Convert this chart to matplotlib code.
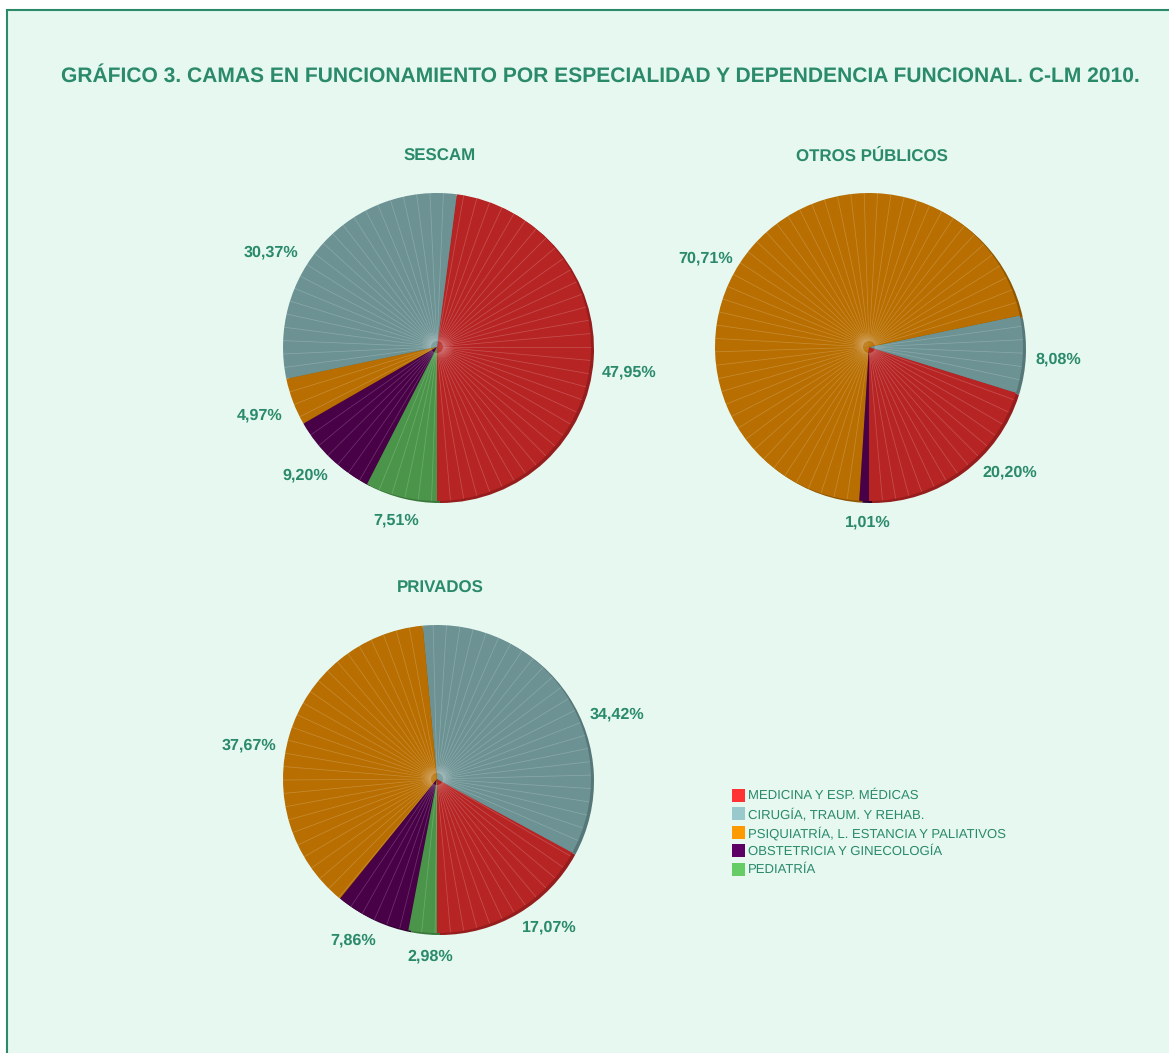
import numpy as np
import matplotlib
matplotlib.use("Agg")
import matplotlib.pyplot as plt
from matplotlib.patches import Rectangle, Circle

plt.rcParams["font.family"] = ["Liberation Sans", "DejaVu Sans"]
plt.rcParams["text.hinting"] = "no_hinting"

W, H = 1169, 1053
TXT = "#2A8A6A"
BG = "#E6F8F0"

title = "GRÁFICO 3. CAMAS EN FUNCIONAMIENTO POR ESPECIALIDAD Y DEPENDENCIA FUNCIONAL. C-LM 2010."
categories = ["MEDICINA Y ESP. MÉDICAS", "CIRUGÍA, TRAUM. Y REHAB.",
              "PSIQUIATRÍA, L. ESTANCIA Y PALIATIVOS",
              "OBSTETRICIA Y GINECOLOGÍA", "PEDIATRÍA"]

# percentages, same order as categories
sescam = [47.95, 30.37, 4.97, 9.20, 7.51]
otros = [20.20, 8.08, 70.71, 1.01, 0]
privados = [17.07, 34.42, 37.67, 7.86, 2.98]

legend_colors = ["#FF3333", "#99C9CC", "#FF9900", "#5C0066", "#66CC66"]
top_colors = ["#B72424", "#6C9293", "#B86E00", "#480046", "#4A9549"]
side_colors = ["#961D1D", "#577677", "#8F5600", "#300030", "#3A763A"]

# pixel layout: pie centre, title pos, label centres
sescam_labels = [(629, 372), (271, 252), (260, 415), (305, 475), (396, 520)]
otros_labels = [(1010, 472), (1058, 359), (706, 258), (868, 522), None]
privados_labels = [(549, 927), (617, 714), (249, 745), (353, 940), (430, 956)]
pies = [
    ("SESCAM", sescam, (437, 347), (440, 156.5), sescam_labels),
    ("OTROS PÚBLICOS", otros, (869, 347), (872, 156.5), otros_labels),
    ("PRIVADOS", privados, (437, 779), (440, 588.5), privados_labels),
]

R = 154


def fmt(v):
    return f"{v:.2f}%".replace(".", ",")


def draw_pie(name, vals, c, title_xy, labels):
    pad = 170
    ax = fig.add_axes([(c[0] - pad) / W, 1 - (c[1] + pad) / H, 2 * pad / W, 2 * pad / H])

    # extruded edge: the same pie, darker, pushed right and down
    ax.pie(vals, colors=side_colors, startangle=270, counterclock=True, radius=R,
           center=(3, -2), frame=True)
    wedges, _ = ax.pie(vals, colors=top_colors, startangle=270, counterclock=True,
                       radius=R, center=(0, 0), frame=True)
    ax.set_xlim(-pad, pad)
    ax.set_ylim(-pad, pad)
    ax.axis("off")

    # faint spokes inside every wedge
    for w in wedges:
        if w.theta2 - w.theta1 < 1:
            continue
        for a in np.arange(w.theta1 + 5, w.theta2 - 0.5, 5.0):
            t = np.radians(a)
            ax.plot([6 * np.cos(t), R * np.cos(t)], [6 * np.sin(t), R * np.sin(t)],
                    color="white", lw=0.55, alpha=0.2, solid_capstyle="butt", zorder=3)

        # soft glow near the hub of the big wedges
        span = w.theta2 - w.theta1
        if span > 100:
            t = np.radians((w.theta1 + w.theta2) / 2)
            for r_glow in (10, 7, 4):
                glow = Circle((6 * np.cos(t), 6 * np.sin(t)), r_glow, facecolor="white",
                              edgecolor="none", alpha=0.05, zorder=4)
                ax.add_patch(glow)
                glow.set_clip_path(w)

    fig.text(title_xy[0] / W, 1 - title_xy[1] / H, name, color=TXT, fontsize=12.15,
             fontweight="bold", ha="center", va="center")
    for v, xy in zip(vals, labels):
        if xy is None:
            continue
        fig.text(xy[0] / W, 1 - xy[1] / H, fmt(v), color=TXT, fontsize=11.6,
                 fontweight="bold", ha="center", va="center")


fig = plt.figure(figsize=(W / 100, H / 100), dpi=100, facecolor="white")

# panel with border, kept behind the axes
fig.add_artist(Rectangle((7 / W, -0.01), 1.01, 1 - 10 / H + 0.01, transform=fig.transFigure,
                         facecolor=BG, edgecolor=TXT, lw=1.5, zorder=-1))

fig.text(600.5 / W, 1 - 76 / H, title, color=TXT, fontsize=15.1, fontweight="bold",
         ha="center", va="center")

for name, vals, c, txy, lab in pies:
    draw_pie(name, vals, c, txy, lab)

# legend
for i, (cat, col) in enumerate(zip(categories, legend_colors)):
    y = 795 + i * 18.5
    fig.add_artist(Rectangle((732 / W, 1 - (y + 6.5) / H), 13 / W, 13 / H,
                             transform=fig.transFigure, facecolor=col, edgecolor="none"))
    fig.text(748 / W, 1 - (y + 1) / H, cat, color=TXT, fontsize=9.45, ha="left", va="center")

fig.savefig("out.png", dpi=100, facecolor="white")
